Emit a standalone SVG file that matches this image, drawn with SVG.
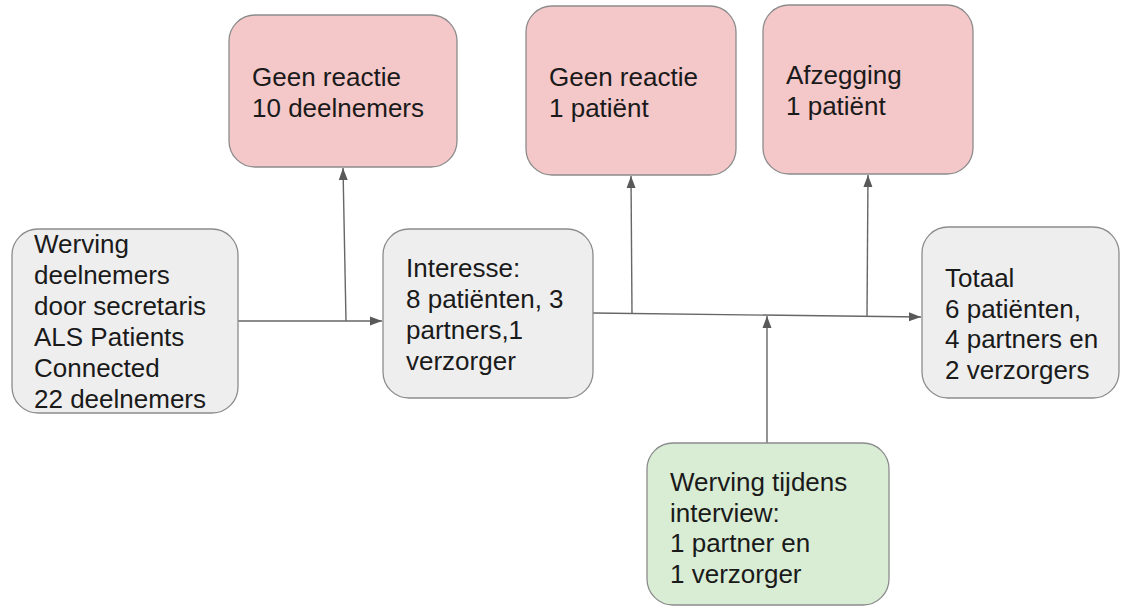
<svg xmlns="http://www.w3.org/2000/svg" width="1121" height="607" viewBox="0 0 1121 607">
<defs>
<marker id="arr" viewBox="0 0 12 10" refX="12" refY="5" markerWidth="12" markerHeight="10" markerUnits="userSpaceOnUse" orient="auto">
<path d="M0,0.5 L12,5 L0,9.5 Z" fill="#595959"/>
</marker>
</defs>
<style>
.grey{fill:#eeeeee;stroke:#8c8c8c;stroke-width:1.3}
.pink{fill:#f4c7c8;stroke:#8c8c8c;stroke-width:1.3}
.green{fill:#d9ecd4;stroke:#8c8c8c;stroke-width:1.3}
text{font-family:"Liberation Sans",Arial,sans-serif;font-size:26px;fill:#1a1a1a}
.c{fill:none;stroke:#666666;stroke-width:1.4}
</style>
<rect width="1121" height="607" fill="#ffffff"/>
<g id="connectors">
<line class="c" x1="238" y1="321" x2="382" y2="321" marker-end="url(#arr)"/>
<line class="c" x1="346" y1="321" x2="343" y2="168" marker-end="url(#arr)"/>
<line class="c" x1="593" y1="313" x2="921" y2="317" marker-end="url(#arr)"/>
<line class="c" x1="632" y1="313.5" x2="631" y2="176" marker-end="url(#arr)"/>
<line class="c" x1="867" y1="316.5" x2="868" y2="175" marker-end="url(#arr)"/>
<line class="c" x1="767" y1="443" x2="767" y2="316" marker-end="url(#arr)"/>
</g>
<g id="node-werving">
<rect class="grey" x="12" y="229" width="226" height="184" rx="26"/>
<text x="34" y="253">Werving</text>
<text x="34" y="284">deelnemers</text>
<text x="34" y="315">door secretaris</text>
<text x="34" y="346">ALS Patients</text>
<text x="34" y="377">Connected</text>
<text x="34" y="408">22 deelnemers</text>
</g>
<g id="node-geen-reactie-10">
<rect class="pink" x="229" y="15" width="228" height="152" rx="26"/>
<text x="252" y="86">Geen reactie</text>
<text x="252" y="117">10 deelnemers</text>
</g>
<g id="node-interesse">
<rect class="grey" x="383" y="229" width="210" height="169" rx="26"/>
<text x="406" y="277">Interesse:</text>
<text x="406" y="308">8 patiënten, 3</text>
<text x="406" y="339">partners,1</text>
<text x="406" y="370">verzorger</text>
</g>
<g id="node-geen-reactie-1">
<rect class="pink" x="526" y="6" width="210" height="169" rx="26"/>
<text x="549" y="86">Geen reactie</text>
<text x="549" y="117">1 patiënt</text>
</g>
<g id="node-afzegging">
<rect class="pink" x="763" y="5" width="210" height="169" rx="26"/>
<text x="786" y="84">Afzegging</text>
<text x="786" y="115">1 patiënt</text>
</g>
<g id="node-totaal">
<rect class="grey" x="922" y="227" width="197" height="171" rx="26"/>
<text x="945" y="287">Totaal</text>
<text x="945" y="318">6 patiënten,</text>
<text x="945" y="348">4 partners en</text>
<text x="945" y="379">2 verzorgers</text>
</g>
<g id="node-werving-interview">
<rect class="green" x="647" y="443" width="242" height="162" rx="26"/>
<text x="670" y="491">Werving tijdens</text>
<text x="670" y="522">interview:</text>
<text x="670" y="552">1 partner en</text>
<text x="670" y="583">1 verzorger</text>
</g>
</svg>
